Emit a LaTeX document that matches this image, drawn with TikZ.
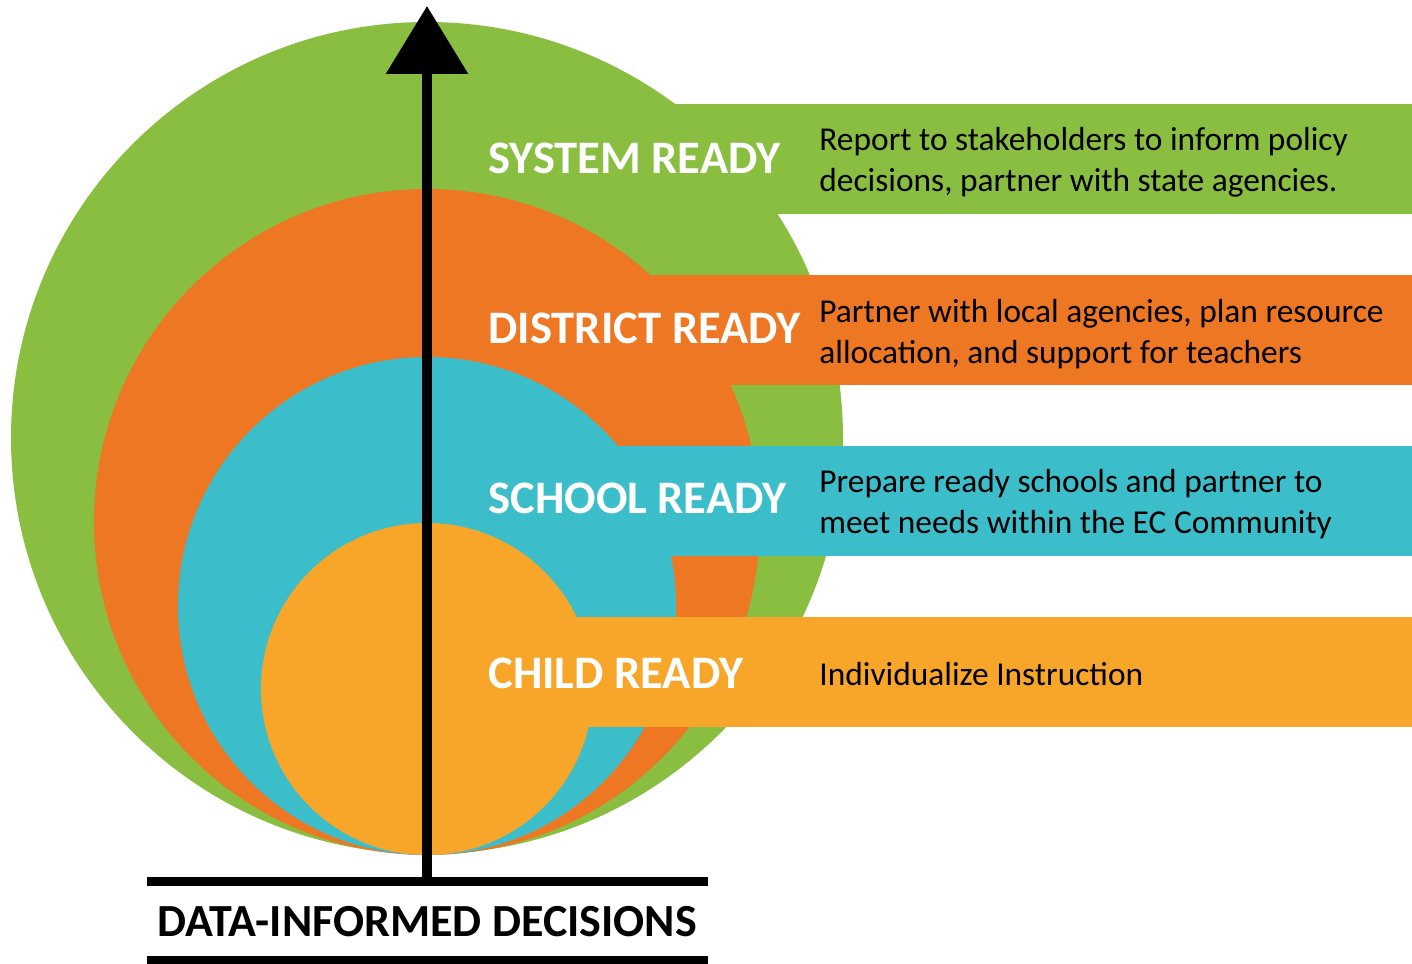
\documentclass[tikz,border=0pt]{standalone}
\usepackage{fontspec}
\setmainfont{Carlito}
\usetikzlibrary{positioning, arrows.meta}
\definecolor{sysgreen}{RGB}{137,190,65}
\definecolor{distorange}{RGB}{238,119,35}
\definecolor{schoolteal}{RGB}{60,190,202}
\definecolor{childyellow}{RGB}{248,166,41}
\tikzset{
  disc/.style={circle, fill=#1, inner sep=0pt},
  band/.style={fill=#1},
  level/.style={anchor=west, text=white, inner sep=0pt, font=\bfseries\fontsize{23.3}{26}\selectfont},
  desc/.style={anchor=west, align=left, inner sep=0pt, font=\fontsize{16.7}{20.3}\selectfont},
  rule/.style={line width=4.5pt},
  growth/.style={line width=5pt, -{Triangle[width=40pt,length=34pt]}},
}
\begin{document}
\begin{tikzpicture}[x=0.5pt, y=-0.5pt]
  \useasboundingbox (0,0) rectangle (1412,963);

  % Circles and bands
  \node[disc=sysgreen, minimum size=416pt] (system) at (427,438) {};
  \fill[band=sysgreen] (427,104) rectangle (1412,214);
  \node[disc=distorange, minimum size=333pt] (district) at (427,522) {};
  \fill[band=distorange] (427,275) rectangle (1412,385);
  \node[disc=schoolteal, minimum size=249pt] (school) at (427,606) {};
  \fill[band=schoolteal] (427,446) rectangle (1412,556);
  \node[disc=childyellow, minimum size=166pt] (child) at (427,689) {};
  \fill[band=childyellow] (427,617) rectangle (1412,727);

  % Labels
  \node[level] (syslabel) at (488,158) {SYSTEM READY};
  \node[level] (distlabel) at (488,328) {DISTRICT READY};
  \node[level] (schoollabel) at (488,498) {SCHOOL READY};
  \node[level] (childlabel) at (488,673) {CHILD READY};

  \node[desc] (sysdesc) at (819,162) {Report to stakeholders to inform policy\\decisions, partner with state agencies.};
  \node[desc] (distdesc) at (819,334) {Partner with local agencies, plan resource\\allocation, and support for teachers};
  \node[desc] (schooldesc) at (819,504) {Prepare ready schools and partner to\\meet needs within the EC Community};
  \node[desc] (childdesc) at (819,674) {Individualize Instruction};

  % Arrow and base
  \coordinate (foot) at (427,881);
  \coordinate (tip) at (427,6);
  \draw[growth] (foot) -- (tip);
  \draw[rule] (147,881) -- (708,881);
  \draw[rule] (147,960) -- (708,960);
  \node[font=\bfseries\fontsize{23}{26}\selectfont] (decisions) at (427,922) {DATA-INFORMED DECISIONS};

\end{tikzpicture}
\end{document}
